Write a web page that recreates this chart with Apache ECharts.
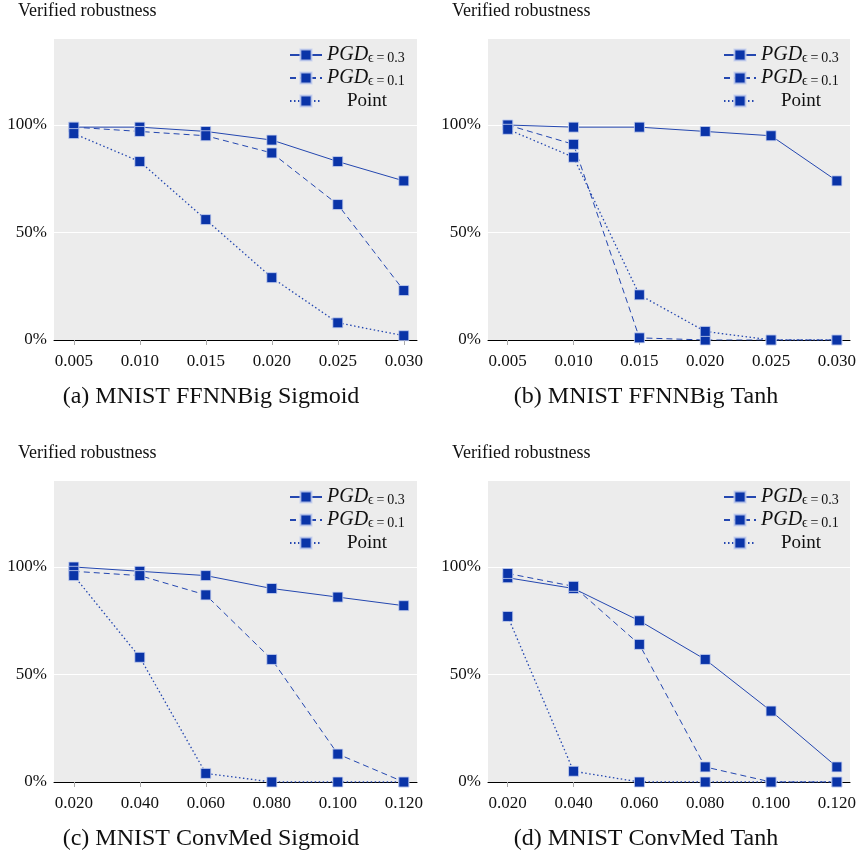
<!DOCTYPE html>
<html>
<head>
<meta charset="utf-8">
<script src="https://cdn.jsdelivr.net/npm/echarts@6/dist/echarts.min.js"></script>
<style>html,body{margin:0;padding:0;background:#fff;}#c{width:859px;height:857px;}</style>
</head>
<body>
<div id="c"></div>
<script>
// ---- data ----
var epsFFNN = [0.005, 0.010, 0.015, 0.020, 0.025, 0.030];
var epsConv = [0.020, 0.040, 0.060, 0.080, 0.100, 0.120];
var yTicks = [0, 50, 100];

var a_pgd03 = [99, 99, 97, 93, 83, 74];
var a_pgd01 = [99, 97, 95, 87, 63, 23];
var a_point = [96, 83, 56, 29, 8, 2];

var b_pgd03 = [100, 99, 99, 97, 95, 74];
var b_pgd01 = [100, 91, 1, 0, 0, 0];
var b_point = [98, 85, 21, 4, 0, 0];

var c_pgd03 = [100, 98, 96, 90, 86, 82];
var c_pgd01 = [98, 96, 87, 57, 13, 0];
var c_point = [96, 58, 4, 0, 0, 0];

var d_pgd03 = [95, 90, 75, 57, 33, 7];
var d_pgd01 = [97, 91, 64, 7, 0, 0];
var d_point = [77, 5, 0, 0, 0, 0];

var captions = ['(a) MNIST FFNNBig Sigmoid', '(b) MNIST FFNNBig Tanh', '(c) MNIST ConvMed Sigmoid', '(d) MNIST ConvMed Tanh'];
var seriesNames = ['PGD03', 'PGD01', 'Point'];

// ---- layout / style ----
var serif = 'Liberation Serif, Times New Roman, serif';
var markColor = '#0a34a8';
var lineColor = '#2447b0';
var panels = [
  {x: epsFFNN, s: [a_pgd03, a_pgd01, a_point], left: 54, top: 39, xmin: 0.0035, xmax: 0.031, cx: 211, ox: 0, oy: 0},
  {x: epsFFNN, s: [b_pgd03, b_pgd01, b_point], left: 488, top: 39, xmin: 0.0035, xmax: 0.031, cx: 646, ox: 434, oy: 0},
  {x: epsConv, s: [c_pgd03, c_pgd01, c_point], left: 54, top: 481, xmin: 0.014, xmax: 0.124, cx: 211, ox: 0, oy: 442},
  {x: epsConv, s: [d_pgd03, d_pgd01, d_point], left: 488, top: 481, xmin: 0.014, xmax: 0.124, cx: 646, ox: 434, oy: 442}
];
var lineTypes = ['solid', [6, 4], [1.5, 2.5]];

var grid = [], xAxis = [], yAxis = [], series = [], title = [], legend = [];
panels.forEach(function (p, i) {
  grid.push({left: p.left, top: p.top, width: 363, height: 301, show: true, backgroundColor: '#ececec', borderWidth: 0, containLabel: false});
  xAxis.push({
    type: 'value', gridIndex: i, min: p.xmin, max: p.xmax,
    axisLine: {show: true, onZero: true, lineStyle: {color: '#000', width: 1}},
    axisTick: {show: true, length: 5, customValues: p.x, lineStyle: {color: '#aaa'}},
    axisLabel: {customValues: p.x, margin: 13, fontFamily: serif, fontSize: 17, color: '#111',
      formatter: function (v) { return v.toFixed(3); }},
    splitLine: {show: false}
  });
  yAxis.push({
    type: 'value', gridIndex: i, min: 0, max: 140,
    axisLine: {show: false}, axisTick: {show: false},
    axisLabel: {customValues: yTicks, margin: 7, fontFamily: serif, fontSize: 17, color: '#111',
      formatter: function (v) { return v + '%'; }},
    splitLine: {show: false}
  });
  p.s.forEach(function (vals, k) {
    var ser = {
      name: seriesNames[k], type: 'line', xAxisIndex: i, yAxisIndex: i,
      data: p.x.map(function (xv, j) { return [xv, vals[j]]; }),
      symbol: 'rect', symbolSize: 10,
      itemStyle: {color: markColor, borderColor: 'rgba(200,210,240,0.8)', borderWidth: 1},
      lineStyle: {color: lineColor, width: k === 2 ? 1.3 : 1, type: lineTypes[k]},
      animation: false, z: 3
    };
    if (k === 0) {
      ser.markLine = {silent: true, symbol: 'none', animation: false, label: {show: false},
        lineStyle: {color: '#fff', width: 1, type: 'solid'},
        data: yTicks.filter(function (t) { return t > 0; }).map(function (t) { return {yAxis: t}; }), z: 1};
    }
    series.push(ser);
  });
  title.push({text: 'Verified robustness', left: 18 + p.ox, top: 2 + p.oy, padding: 0,
    textStyle: {fontFamily: serif, fontSize: 18, fontWeight: 'normal', color: '#111'}});
  title.push({text: captions[i], left: p.cx, textAlign: 'center', top: 385 + p.oy, padding: 0,
    textStyle: {fontFamily: serif, fontSize: 24, fontWeight: 'normal', color: '#111'}});
  legend.push({
    orient: 'vertical', left: 289 + p.ox, top: 45 + p.oy, padding: 0,
    itemWidth: 32, itemHeight: 14, itemGap: 3, selectedMode: false,
    data: seriesNames,
    formatter: function (n) {
      if (n === 'Point') return '{pt|Point}';
      return '{p|PGD}{s|ϵ\u2009=\u2009' + (n === 'PGD03' ? '0.3' : '0.1') + '}';
    },
    textStyle: {fontFamily: serif, fontSize: 18, color: '#111', lineHeight: 20,
      rich: {
        p: {fontFamily: serif, fontStyle: 'italic', fontSize: 20, color: '#111', lineHeight: 20},
        s: {fontFamily: serif, fontSize: 14, color: '#111', lineHeight: 10, verticalAlign: 'bottom'},
        pt: {fontFamily: serif, fontSize: 19, color: '#111', width: 80, align: 'center', lineHeight: 20}
      }}
  });
});

var chart = echarts.init(document.getElementById('c'), null, {renderer: 'canvas'});
chart.setOption({animation: false, title: title, legend: legend, grid: grid, xAxis: xAxis, yAxis: yAxis, series: series});
</script>
</body>
</html>
